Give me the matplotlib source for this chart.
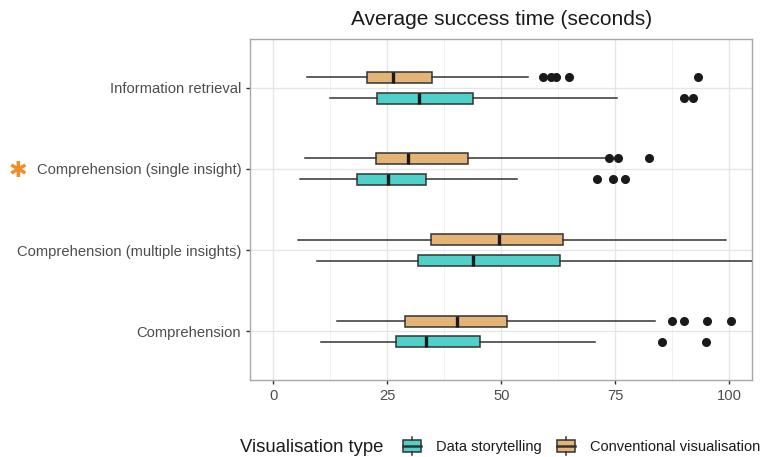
import matplotlib
matplotlib.use('Agg')
from matplotlib import pyplot as plt
from matplotlib.patches import Rectangle
from matplotlib.lines import Line2D
from matplotlib.legend_handler import HandlerBase

plt.rcParams['font.family'] = ['Liberation Sans', 'DejaVu Sans']

# categories from bottom to top
categories = ['Comprehension', 'Comprehension (multiple insights)',
              'Comprehension (single insight)', 'Information retrieval']

# five-number summaries: whisker low, q1, median, q3, whisker high
story_low = [10.6, 9.7, 6.0, 12.5]
story_q1 = [27.0, 31.7, 18.4, 22.7]
story_med = [33.5, 43.9, 25.2, 32.0]
story_q3 = [45.3, 62.8, 33.5, 43.9]
story_high = [70.6, 112.0, 53.4, 75.4]
story_out = [[85.2, 94.9], [], [71.0, 74.4, 77.0], [90.1, 91.9]]

conv_low = [14.0, 5.4, 7.0, 7.4]
conv_q1 = [29.0, 34.7, 22.5, 20.6]
conv_med = [40.4, 49.4, 29.5, 26.3]
conv_q3 = [51.3, 63.6, 42.7, 34.8]
conv_high = [83.7, 99.2, 72.8, 55.9]
conv_out = [[87.5, 90.1, 95.1, 100.4], [], [73.6, 75.5, 82.3],
            [59.1, 60.9, 61.9, 64.9, 93.2]]

xticks = [0, 25, 50, 75, 100]
col_story = '#4FD1C9'
col_conv = '#E4B476'
edge = '#333333'


def stats(lo, q1, med, q3, hi, out):
    return [dict(whislo=lo[i], q1=q1[i], med=med[i], q3=q3[i], whishi=hi[i],
                 fliers=out[i]) for i in range(len(lo))]


class BoxHandler(HandlerBase):
    # little boxplot glyph for the legend keys
    def create_artists(self, legend, orig, xd, yd, w, h, fontsize, trans):
        c = orig.get_facecolor()
        x0, y0 = -xd, -yd
        bw = w * 0.95
        bx = x0 + (w - bw) / 2
        xm = x0 + w / 2
        rect = Rectangle((bx, y0 + h * 0.2), bw, h * 0.6, facecolor=c,
                         edgecolor=edge, lw=1.1, transform=trans)
        mid = Line2D([bx, bx + bw], [y0 + h / 2] * 2, color=edge, lw=1.8, transform=trans)
        w1 = Line2D([xm, xm], [y0, y0 + h * 0.2], color=edge, lw=1.1, transform=trans)
        w2 = Line2D([xm, xm], [y0 + h * 0.8, y0 + h], color=edge, lw=1.1, transform=trans)
        return [rect, mid, w1, w2]


fig = plt.figure(figsize=(7.63, 4.57), dpi=100)
ax = fig.add_axes([0.328, 0.168, 0.658, 0.747])

pos = list(range(1, len(categories) + 1))
off = 0.128
bw = 0.135
for st, col, sign in [(stats(story_low, story_q1, story_med, story_q3, story_high, story_out), col_story, -1),
                      (stats(conv_low, conv_q1, conv_med, conv_q3, conv_high, conv_out), col_conv, 1)]:
    ax.bxp(st, positions=[p + sign * off for p in pos], widths=bw, vert=False,
           patch_artist=True, showcaps=False,
           boxprops=dict(facecolor=col, edgecolor=edge, lw=1.1),
           whiskerprops=dict(color=edge, lw=1.1),
           medianprops=dict(color='#1a1a1a', lw=2.4),
           flierprops=dict(marker='o', markerfacecolor='#1a1a1a', markeredgecolor='#1a1a1a',
                           markersize=5.5), zorder=3)

ax.set_xlim(-5, 105)
ax.set_ylim(0.4, len(categories) + 0.6)
ax.set_yticks(pos)
ax.set_yticklabels(categories)
ax.set_xticks(xticks)
ax.set_xticklabels([str(t) for t in xticks])
ax.set_xticks([12.5, 37.5, 62.5, 87.5], minor=True)
ax.grid(True, which='major', color='#E6E6E6', lw=1.0, zorder=0)
ax.grid(True, which='minor', axis='x', color='#F0F0F0', lw=0.6, zorder=0)
ax.set_axisbelow(True)
ax.tick_params(axis='both', which='major', colors='#333333', length=3, width=1,
               labelcolor='#4D4D4D', labelsize=10.6)
ax.tick_params(axis='x', which='minor', length=0)
for s in ax.spines.values():
    s.set_color('#A8A8A8')
    s.set_linewidth(1)

ax.set_title('Average success time (seconds)', fontsize=15, color='#1a1a1a', pad=10)

# orange asterisk in front of the starred category
fig.text(0.024, 1 - 171 / 457, '\u2731', color='#F28C28', fontsize=16,
         ha='center', va='center', family='DejaVu Sans')

handles = [Rectangle((0, 0), 1, 1, facecolor=col_story),
           Rectangle((0, 0), 1, 1, facecolor=col_conv)]
fig.text(0.314, 1 - 447 / 457, 'Visualisation type', fontsize=13.3, color='#1a1a1a',
         ha='left', va='center')
fig.legend(handles, ['Data storytelling', 'Conventional visualisation'],
           handler_map={Rectangle: BoxHandler()}, ncol=2, frameon=False,
           loc='center left', bbox_to_anchor=(0.514, 1 - 446 / 457),
           fontsize=10.5, handlelength=1.3, handleheight=1.6, handletextpad=1.0,
           columnspacing=1.0, labelcolor='#1a1a1a', borderpad=0.2)

fig.savefig('out.png', dpi=100)
